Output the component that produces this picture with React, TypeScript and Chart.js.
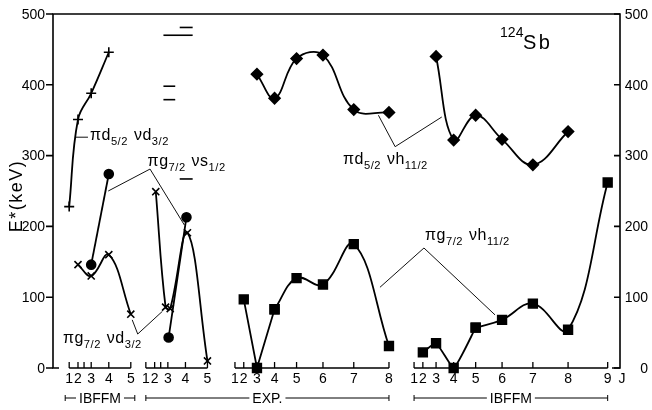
import React, { useEffect, useRef } from "react";
import { Chart, registerables } from "chart.js";
Chart.register(...registerables);

// ---- x layout: four J sub-axes, x = origin + J(J+1) (scale units) ----
const GROUP_ORIGIN = [5.36, 40.2, 80.7, 162.1];
const GROUP_J = [
  [1, 2, 3, 4, 5],
  [1, 2, 3, 4, 5],
  [1, 2, 3, 4, 5, 6, 7, 8],
  [1, 2, 3, 4, 5, 6, 7, 8, 9],
];
const GROUP_EXTRA_TICK_J = [[2.5], [2.5], [], []];
const X_MAX = 257.7;
const Y_MAX = 500;
const Y_TICKS = [0, 100, 200, 300, 400, 500];

// ---- series (J, E* in keV) ----
// πd5/2 νd3/2 (IBFFM)
const ddIbffmJ = [1, 2, 3, 4];
const ddIbffmE = [228, 351, 388, 446];
// πg7/2 νd3/2
const gdIbffmJ = [2, 3, 4, 5];
const gdIbffmE = [146, 130, 160, 76];
const gdExpJ = [2.1, 2.85, 3.15, 4.1, 5];
const gdExpE = [249, 86, 84, 191, 10];
// πg7/2 νs1/2
const gsIbffmJ = [3, 4];
const gsIbffmE = [146, 274];
const gsExpJ = [3.05, 4.05];
const gsExpE = [43, 213];
// πd5/2 νh11/2
const dhExpJ = [3, 4, 5, 6, 7, 8];
const dhExpE = [415, 381, 437, 442, 365, 361];
const dhIbffmJ = [3, 4, 5, 6, 7, 8];
const dhIbffmE = [440, 322, 357, 323, 287, 334];
// πg7/2 νh11/2
const ghExpJ = [2, 3, 4, 5, 6, 7, 8];
const ghExpE = [97, 0, 83, 127, 118, 175, 31];
const ghIbffmJ = [2, 3, 4, 5, 6, 7, 8, 9];
const ghIbffmE = [22, 35, 0, 57, 68, 91, 54, 262];
// unassigned experimental levels (group EXP, J range)
const levE = [470, 481, 398, 379, 267];
const levJlo = [2.7, 3.7, 2.7, 2.7, 3.7];
const levJhi = [4.35, 4.35, 3.45, 3.45, 4.35];

const FONT = '"Liberation Sans", Arial, sans-serif';

const jx = (g: number, J: number) => GROUP_ORIGIN[g] + J * (J + 1);
const series = (g: number, Js: number[], Es: number[]) =>
  Js.map((J, i) => ({ x: jx(g, J), y: Es[i] }));

type Part = [string, number];
const SUB = (a: string, b: string, c: string, d: string): Part[] => [
  [a, 0],
  [b, 1],
  [c, 0],
  [d, 1],
];
// labels: parts, x (scale units), y (keV, baseline)
const LABELS: { parts: Part[]; x: number; y: number }[] = [
  { parts: SUB("πd", "5/2", " νd", "3/2"), x: 16.8, y: 322 },
  { parts: SUB("πg", "7/2", " νs", "1/2"), x: 43.0, y: 285 },
  { parts: SUB("πg", "7/2", " νd", "3/2"), x: 4.5, y: 35 },
  { parts: SUB("πd", "5/2", " νh", "11/2"), x: 131.8, y: 288 },
  { parts: SUB("πg", "7/2", " νh", "11/2"), x: 169.1, y: 181 },
];
// leader lines in (scale units, keV)
const LEADERS: number[][][] = [
  [[10.0, 326], [15.9, 326]],
  [[25.1, 250], [44.1, 281], [59.7, 202]],
  [[36.0, 68], [38.5, 48], [49.7, 80]],
  [[147.9, 357], [155.5, 312.6], [176.7, 354.5]],
  [[148.6, 114], [168.6, 169.5], [200.9, 75]],
];

function drawRich(ctx: CanvasRenderingContext2D, x: number, y: number, parts: Part[], size: number) {
  let cx = x;
  for (const [t, k] of parts) {
    const fs = k === 0 ? size : size * 0.7;
    ctx.font = `${fs}px ${FONT}`;
    const dy = k === 1 ? size * 0.3 : k === -1 ? -size * 0.4 : 0;
    ctx.fillText(t, cx, y + dy);
    cx += ctx.measureText(t).width + (k === 1 ? 1 : 0);
  }
}

const decor = {
  id: "decor",
  beforeDatasetsDraw(chart: any) {
    const { ctx, chartArea: a, scales } = chart;
    const xs = scales.x;
    const ys = scales.y;
    ctx.save();
    ctx.strokeStyle = "#000";
    ctx.fillStyle = "#000";
    ctx.lineWidth = 1.6;
    // frame
    ctx.beginPath();
    ctx.moveTo(a.left + 6, a.bottom);
    ctx.lineTo(a.left, a.bottom);
    ctx.lineTo(a.left, a.top);
    ctx.lineTo(a.right, a.top);
    ctx.lineTo(a.right, a.bottom);
    ctx.lineTo(a.right - 8, a.bottom);
    ctx.stroke();
    // y ticks & labels
    ctx.font = `14px ${FONT}`;
    ctx.textAlign = "right";
    ctx.textBaseline = "middle";
    for (const v of Y_TICKS) {
      const py = ys.getPixelForValue(v);
      ctx.beginPath();
      ctx.moveTo(a.left - 7, py);
      ctx.lineTo(a.left, py);
      ctx.moveTo(a.right - 6, py);
      ctx.lineTo(a.right, py);
      ctx.stroke();
      ctx.fillText(String(v), a.left - 8, py + 1);
      ctx.fillText(String(v), a.right + 28, py + 1);
    }
    // J sub-axes
    ctx.lineWidth = 1.3;
    ctx.textAlign = "center";
    ctx.font = `14px ${FONT}`;
    GROUP_J.forEach((Js, g) => {
      const x0 = xs.getPixelForValue(jx(g, Js[0]));
      const x1 = xs.getPixelForValue(jx(g, Js[Js.length - 1]));
      ctx.beginPath();
      ctx.moveTo(x0, a.bottom);
      ctx.lineTo(x1, a.bottom);
      [...Js, ...GROUP_EXTRA_TICK_J[g]].forEach((J) => {
        const px = xs.getPixelForValue(jx(g, J));
        ctx.moveTo(px, a.bottom);
        ctx.lineTo(px, a.bottom - 6);
      });
      ctx.stroke();
      Js.forEach((J) => {
        ctx.fillText(String(J), xs.getPixelForValue(jx(g, J)), a.bottom + 11);
      });
    });
    ctx.fillText("J", a.right + 2, a.bottom + 11);
    // group captions
    const caption = (xa: number, xb: number, text: string) => {
      const yy = a.bottom + 30;
      ctx.font = `14px ${FONT}`;
      const w = ctx.measureText(text).width;
      const cx = (xa + xb) / 2;
      ctx.lineWidth = 1;
      ctx.beginPath();
      ctx.moveTo(xa, yy);
      ctx.lineTo(cx - w / 2 - 3, yy);
      ctx.moveTo(cx + w / 2 + 3, yy);
      ctx.lineTo(xb, yy);
      ctx.moveTo(xa, yy - 3);
      ctx.lineTo(xa, yy + 3);
      ctx.moveTo(xb, yy - 3);
      ctx.lineTo(xb, yy + 3);
      ctx.stroke();
      ctx.fillText(text, cx, yy + 1);
    };
    caption(xs.getPixelForValue(jx(0, 1)) - 4, xs.getPixelForValue(jx(0, 5)) + 4, "IBFFM");
    caption(xs.getPixelForValue(jx(1, 1)), xs.getPixelForValue(jx(2, 8)), "EXP.");
    caption(xs.getPixelForValue(jx(3, 1)), xs.getPixelForValue(jx(3, 9)), "IBFFM");
    // y title
    ctx.save();
    ctx.translate(17, 196);
    ctx.rotate(-Math.PI / 2);
    ctx.font = `18px ${FONT}`;
    (ctx as any).letterSpacing = "1.5px";
    ctx.textAlign = "center";
    ctx.textBaseline = "middle";
    ctx.fillText("E*(keV)", 0, 0);
    ctx.restore();
    // leaders
    ctx.lineWidth = 1;
    ctx.strokeStyle = "#111";
    for (const pts of LEADERS) {
      ctx.beginPath();
      pts.forEach(([u, e], i) => {
        const px = xs.getPixelForValue(u);
        const py = ys.getPixelForValue(e);
        if (i === 0) ctx.moveTo(px, py);
        else ctx.lineTo(px, py);
      });
      ctx.stroke();
    }
    // series labels
    ctx.textAlign = "left";
    ctx.textBaseline = "alphabetic";
    (ctx as any).letterSpacing = "0.5px";
    for (const l of LABELS) {
      drawRich(ctx, xs.getPixelForValue(l.x), ys.getPixelForValue(l.y), l.parts, 16);
    }
    // nucleus label
    (ctx as any).letterSpacing = "0px";
    ctx.font = `14px ${FONT}`;
    ctx.fillText("124", xs.getPixelForValue(203.2), ys.getPixelForValue(467));
    ctx.font = `20px ${FONT}`;
    (ctx as any).letterSpacing = "2.5px";
    ctx.fillText("Sb", xs.getPixelForValue(213.6), ys.getPixelForValue(450.6));
    ctx.restore();
  },
};

const base = {
  borderColor: "#000",
  backgroundColor: "#000",
  pointBorderColor: "#000",
  pointBackgroundColor: "#000",
  borderWidth: 1.8,
  pointBorderWidth: 1.6,
  tension: 0.4,
  showLine: true,
  clip: false as any,
};

export default function App() {
  const ref = useRef<HTMLCanvasElement>(null);
  useEffect(() => {
    if (!ref.current) return;
    const levels = levE.map((E, i) => ({
      ...base,
      data: [
        { x: jx(1, levJlo[i]), y: E },
        { x: jx(1, levJhi[i]), y: E },
      ],
      pointRadius: 0,
      tension: 0,
      borderWidth: 1.6,
    }));
    const ghExp = series(2, ghExpJ, ghExpE);
    const ghIbffm = series(3, ghIbffmJ, ghIbffmE);
    const sq = { ...base, pointStyle: "rect", pointRadius: 6.2 };
    const chart = new Chart(ref.current, {
      type: "scatter",
      data: {
        datasets: [
          { ...base, data: series(0, ddIbffmJ, ddIbffmE), pointStyle: "cross", pointRadius: 5 },
          { ...base, data: series(0, gdIbffmJ, gdIbffmE), pointStyle: "crossRot", pointRadius: 5 },
          { ...base, data: series(1, gdExpJ, gdExpE), pointStyle: "crossRot", pointRadius: 5 },
          { ...base, data: series(0, gsIbffmJ, gsIbffmE), pointStyle: "circle", pointRadius: 4.5, tension: 0 },
          { ...base, data: series(1, gsExpJ, gsExpE), pointStyle: "circle", pointRadius: 4.5, tension: 0.1 },
          { ...base, data: series(2, dhExpJ, dhExpE), pointStyle: "rectRot", pointRadius: 5.5 },
          { ...base, data: series(3, dhIbffmJ, dhIbffmE), pointStyle: "rectRot", pointRadius: 5.5 },
          // straight lower part and smooth upper part of the same series
          { ...sq, data: ghExp.slice(0, 3), tension: 0 },
          { ...sq, data: ghExp.slice(2) },
          { ...sq, data: ghIbffm.slice(0, 4), tension: 0.15 },
          { ...sq, data: ghIbffm.slice(3) },
          ...levels,
        ] as any,
      },
      options: {
        animation: false,
        responsive: false,
        devicePixelRatio: 1,
        layout: { padding: { left: 53, right: 32, top: 14, bottom: 42 } },
        scales: {
          x: { type: "linear", min: 0, max: X_MAX, display: false },
          y: { type: "linear", min: 0, max: Y_MAX, display: false },
        },
        plugins: { legend: { display: false }, tooltip: { enabled: false } },
      },
      plugins: [decor],
    });
    return () => chart.destroy();
  }, []);
  return (
    <div style={{ position: "absolute", left: 0, top: 0, width: 652, height: 410, background: "#fff" }}>
      <canvas ref={ref} width={652} height={410} />
    </div>
  );
}
